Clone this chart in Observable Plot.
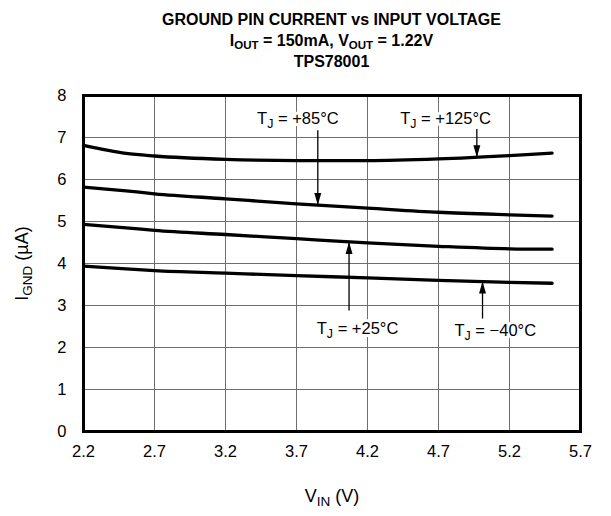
<!DOCTYPE html>
<html><head><meta charset="utf-8">
<script src="https://cdn.jsdelivr.net/npm/d3@7"></script>
<script src="https://cdn.jsdelivr.net/npm/@observablehq/plot@0.6"></script>
<style>
body{margin:0;background:#fff;font-family:"Liberation Sans",Arial,sans-serif;}
#wrap{position:relative;width:611px;}
#title{position:relative;left:83px;width:497px;height:75px;text-align:center;font-weight:bold;font-size:16px;line-height:21px;padding-top:9px;box-sizing:border-box;color:#000;}
#title sub{font-size:11.5px;vertical-align:-3px;line-height:0;}
</style></head><body>
<div id="wrap">
<div id="title">GROUND PIN CURRENT vs INPUT VOLTAGE<br>I<sub>OUT</sub> = 150mA, V<sub>OUT</sub> = 1.22V<br>TPS78001</div>
<div id="chart"></div>
</div>
<script>
// Input voltage (V)
const vin = [2.2, 2.5, 2.7, 3.2, 3.7, 4.2, 4.7, 5.2, 5.5];
// Ground current (µA) per junction temperature
const iTj125 = [6.81, 6.62, 6.56, 6.48, 6.45, 6.45, 6.49, 6.57, 6.63];
const iTj85  = [5.82, 5.73, 5.66, 5.54, 5.42, 5.32, 5.22, 5.16, 5.13];
const iTj25  = [4.93, 4.85, 4.79, 4.69, 4.59, 4.49, 4.41, 4.35, 4.34];
const iTjM40 = [3.94, 3.87, 3.83, 3.77, 3.71, 3.66, 3.60, 3.55, 3.53];
const seriesNames = ["125", "85", "25", "-40"];
const seriesValues = [iTj125, iTj85, iTj25, iTjM40];

// Tick values
const xTicks = [2.2, 2.7, 3.2, 3.7, 4.2, 4.7, 5.2, 5.7];
const yTicks = [0, 1, 2, 3, 4, 5, 6, 7, 8];

// Annotations
const annText = ["T_{J} = +85°C", "T_{J} = +125°C", "T_{J} = +25°C", "T_{J} = \u221240°C"];
const annTextX = [3.71, 4.75, 4.13, 5.10];
const annTextY = [7.45, 7.45, 2.45, 2.40];
const arrowX = [3.85, 4.97, 4.07, 5.01];
const arrowFrom = [7.17, 7.20, 2.88, 2.69];
const arrowTo = [5.39, 6.53, 4.51, 3.57];
const arrowDir = [0, 0, 180, 180];

const lineData = seriesNames.flatMap((s, i) => vin.map((v, j) => ({s, x: v, y: seriesValues[i][j]})));
const ann = annText.map((t, i) => ({t, tx: annTextX[i], ty: annTextY[i], ax: arrowX[i], a1: arrowFrom[i], a2: arrowTo[i], r: arrowDir[i]}));

const arrowHead = {draw(ctx) { ctx.moveTo(0, 0); ctx.lineTo(-3.5, -12); ctx.lineTo(3.5, -12); ctx.closePath(); }};

const plot = Plot.plot({
  width: 611, height: 441,
  marginTop: 20, marginLeft: 83, marginRight: 31, marginBottom: 85,
  style: {fontFamily: "'Liberation Sans', Arial, sans-serif", fontSize: "16.5px", color: "#000", background: "#fff"},
  x: {domain: [2.2, 5.7]},
  y: {domain: [0, 8]},
  marks: [
    Plot.gridX(xTicks, {stroke: "#6e6e6e", strokeOpacity: 1, strokeWidth: 1}),
    Plot.gridY(yTicks, {stroke: "#6e6e6e", strokeOpacity: 1, strokeWidth: 1}),
    Plot.axisX(xTicks, {tickSize: 0, tickPadding: 14, fontSize: 16.5, tickFormat: d => d.toFixed(1), label: "V_{IN} (V)", labelAnchor: "center", labelArrow: "none", labelOffset: 70}),
    Plot.axisY(yTicks, {tickSize: 0, tickPadding: 17, fontSize: 16.5, tickFormat: d => String(d), label: "I_{GND} (µA)", labelAnchor: "center", labelArrow: "none", labelOffset: 68}),
    Plot.line(lineData, {x: "x", y: "y", z: "s", stroke: "#000", strokeWidth: 3.3, curve: "monotone-x"}),
    Plot.link(ann, {x1: "ax", y1: "a1", x2: "ax", y2: "a2", stroke: "#000", strokeWidth: 1.3}),
    Plot.dot(ann, {x: "ax", y: "a2", symbol: arrowHead, rotate: "r", fill: "#000", stroke: "none", r: 4}),
    Plot.text(ann, {x: "tx", y: "ty", text: "t", fontSize: 16.5, fill: "#000", stroke: "#fff", strokeWidth: 6, paintOrder: "stroke"}),
    Plot.frame({stroke: "#000", strokeWidth: 3})
  ]
});

function subify(root) {
  const NS = "http://www.w3.org/2000/svg";
  const walker = document.createTreeWalker(root, NodeFilter.SHOW_TEXT);
  const nodes = [];
  while (walker.nextNode()) if (walker.currentNode.nodeValue.includes("_{")) nodes.push(walker.currentNode);
  for (const n of nodes) {
    const parts = n.nodeValue.split(/(_\{[^}]*\})/);
    const frag = document.createDocumentFragment();
    let shifted = false;
    for (const p of parts) {
      if (!p) continue;
      const t = document.createElementNS(NS, "tspan");
      if (p.startsWith("_{")) {
        t.textContent = p.slice(2, -1);
        t.setAttribute("style", "font-size:75%");
        t.setAttribute("dy", "4");
        shifted = true;
      } else {
        t.textContent = p;
        if (shifted) { t.setAttribute("dy", "-4"); shifted = false; }
      }
      frag.appendChild(t);
    }
    n.parentNode.replaceChild(frag, n);
  }
}
subify(plot);
plot.querySelectorAll('g[aria-label="x-axis label"], g[aria-label="y-axis label"]').forEach(g => g.setAttribute("font-size", "18"));
document.getElementById("chart").appendChild(plot);
</script>
</body></html>
